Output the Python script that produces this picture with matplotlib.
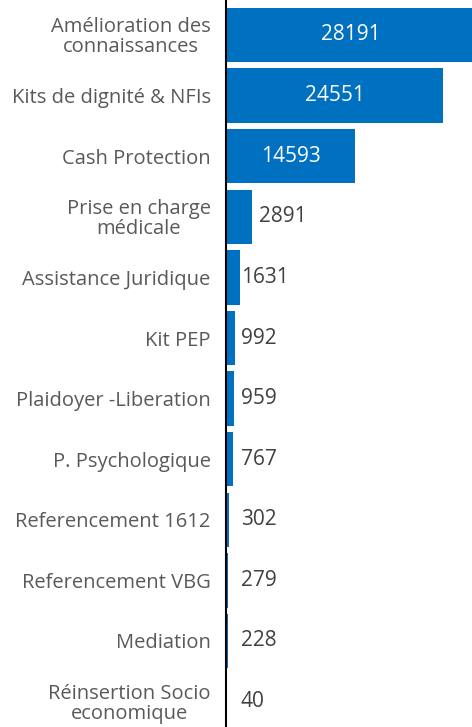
import numpy as np
import matplotlib.pyplot as plt

plt.rcParams.update({'font.family': ['Open Sans', 'DejaVu Sans']})

categories = ['Amélioration des\nconnaissances', 'Kits de dignité & NFIs', 'Cash Protection',
              'Prise en charge\nmédicale', 'Assistance Juridique', 'Kit PEP',
              'Plaidoyer -Liberation', 'P. Psychologique', 'Referencement 1612',
              'Referencement VBG', 'Mediation', 'Réinsertion Socio\neconomique']
values = [28191, 24551, 14593, 2891, 1631, 992, 959, 767, 302, 279, 228, 40]

blue = '#0070C0'
W, H = 472, 727
fig = plt.figure(figsize=(W/100, H/100), dpi=100, facecolor='w')
ax = fig.add_axes([226/W, 0, 1 - 226/W, 1])

y = np.arange(len(values))
ax.barh(y, values, height=0.9, color=blue)
ax.set_xlim(0, 27800)
step = 60.6
ax.set_ylim((H - 35)/step, -35/step)

ax.set_yticks(y)
ax.set_yticklabels(categories, fontsize=14.5, color='#595959', linespacing=1.0)
for lab in ax.get_yticklabels():
    lab.set_multialignment('center')
ax.tick_params(axis='y', length=0, pad=11)
ax.set_xticks([])
for s in ['top', 'right', 'bottom']:
    ax.spines[s].set_visible(False)
ax.spines['left'].set_linewidth(1.5)
ax.spines['left'].set_color('black')

for yi, v in zip(y, values):
    if v > 10000:
        ax.text(v/2, yi, str(v), color='white', fontsize=15, ha='center', va='center')
    else:
        # small bars share one label column just right of the axis
        anchor = v if v > 2000 else 900
        ax.annotate(str(v), (anchor, yi), xytext=(5, 0), textcoords='offset points',
                    color='#404040', fontsize=15, ha='left', va='center')

fig.savefig('out.png', dpi=100)
